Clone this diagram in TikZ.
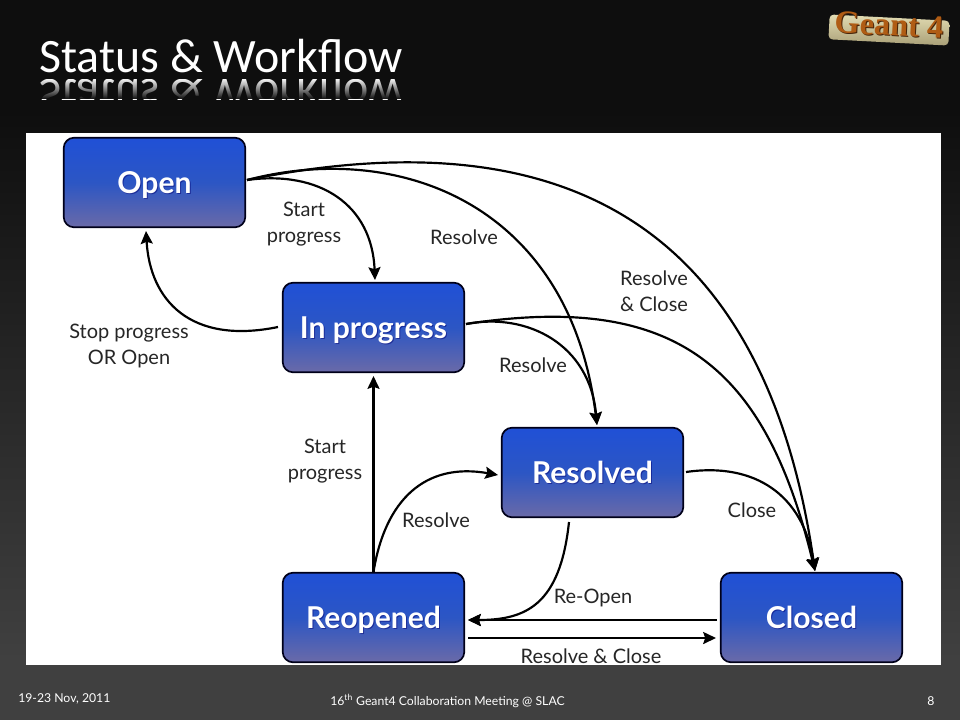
\documentclass[tikz,border=0pt]{standalone}
\usepackage{fontspec}
\setmainfont{Lato}
\newfontfamily\titlefont{Carlito}
\newfontfamily\logofont{Liberation Serif}
\usetikzlibrary{arrows.meta,fadings}
\definecolor{figBg}{RGB}{14,14,14}
\definecolor{figFoot}{RGB}{64,64,64}
\definecolor{figTop}{RGB}{32,80,214}
\definecolor{figMid}{RGB}{44,86,196}
\definecolor{figLow}{RGB}{106,106,168}
\definecolor{figPlaque}{RGB}{226,220,178}
\definecolor{figPlaqueLow}{RGB}{170,160,120}
\definecolor{figLogo}{RGB}{176,92,20}
\definecolor{figLogoDark}{RGB}{70,36,10}
\tikzset{
  statebox/.style={draw=black!90!blue,line width=1.2pt,rounded corners=2.6mm,minimum width=45.4mm,minimum height=22.4mm,top color=figTop,bottom color=figLow,middle color=figMid},
  statetext/.style={text=white,anchor=base,font=\fontsize{21.4}{25}\selectfont\bfseries},
  stateshadow/.style={text=black!55!blue,opacity=0.5,anchor=base,font=\fontsize{21.4}{25}\selectfont\bfseries},
  flow/.style={->,line width=1.55pt,black},
  flowlabel/.style={font=\fontsize{14.2}{18.5}\selectfont,align=center,text=black!85},
  footer/.style={text=white!90,inner sep=0pt,font=\fontsize{8.7}{10}\selectfont}
}
\begin{document}
\begin{tikzpicture}[x=0.25mm,y=-0.25mm,>={Stealth[length=3.2mm,width=3mm,inset=0.5mm]}]
\useasboundingbox (0,0) rectangle (960,720);
% slide background
\fill[figBg] (0,0) rectangle (960,110);
\shade[top color=figBg,bottom color=figFoot] (0,110) rectangle (960,660);
\fill[figFoot] (0,660) rectangle (960,720);
% title and its reflection
\node[text=white!94,font=\fontsize{34.1}{38}\selectfont\titlefont,anchor=base west,inner sep=0pt] (title) at (39,72) {Status \& Workflow};
\begin{scope}
\clip (30,79) rectangle (410,99);
\node[text=white!55,font=\fontsize{34.1}{38}\selectfont\titlefont,anchor=base west,inner sep=0pt,yscale=-1,transform shape] (mirror) at (39,79) {Status \& Workflow};
\fill[figBg,path fading=north] (30,78) rectangle (410,99);
\end{scope}
% logo
\node[rotate=-3,top color=figPlaque,bottom color=figPlaqueLow,rounded corners=1mm,minimum width=30mm,minimum height=6.2mm,inner sep=0pt] (plaque) at (889,30) {};
\node[rotate=-3,text=figLogoDark,font=\fontsize{23}{26}\selectfont\logofont\bfseries,inner sep=0pt] (logoback) at (890,26) {Geant 4};
\node[rotate=-3,text=figLogo,font=\fontsize{23}{26}\selectfont\logofont\bfseries,inner sep=0pt] (logo) at (889,25) {Geant 4};
% white panel
\fill[white] (26,133) rectangle (941,665);
% states
\foreach \nm/\cx/\cy/\txt in {open/154.5/182.5/Open,progress/373.5/327.5/In progress,resolved/592.5/472.5/Resolved,reopened/373.5/617.5/Reopened,closed/811.5/617.5/Closed}{
  \node[statebox] (\nm) at (\cx,\cy) {};
  \node[stateshadow] (\nm s) at (\cx+1,\cy+12) {\txt};
  \node[statetext] (\nm t) at (\cx,\cy+10.5) {\txt};
}
% free ends of the curves
\coordinate (openout) at (247,180);
\coordinate (progout) at (466,324);
\coordinate (progtop) at (375,280);
\coordinate (resin) at (597,425);
\coordinate (closedin) at (815,571);
\coordinate (openin) at (146,231);
\coordinate (progin) at (373.5,376);
\coordinate (reopin) at (468,620);
\coordinate (reopout) at (468,638);
\coordinate (closein) at (716,638);
\coordinate (closeout) at (717,620);
\coordinate (resdown) at (569,522);
\coordinate (resout) at (686,472);
\coordinate (reopup) at (373.5,572);
\coordinate (resleft) at (498,475);
\coordinate (progleft) at (278,327);
% from open
\draw[flow] (openout) .. controls (320,170) and (372,205) .. (progtop);
\draw[flow] (openout) .. controls (400,140) and (570,205) .. (resin);
\draw[flow] (openout) .. controls (600,108) and (770,260) .. (closedin);
% from in progress
\draw[flow] (progout) .. controls (528,312) and (590,345) .. (resin);
\draw[flow] (progout) .. controls (675,292) and (765,365) .. (closedin);
\draw[flow] (progleft) .. controls (190,345) and (150,300) .. (openin);
% from resolved
\draw[flow] (resout) .. controls (755,462) and (803,495) .. (closedin);
\draw[flow] (resdown) .. controls (560,606) and (525,620) .. (reopin);
% from reopened
\draw[flow] (reopup) -- (progin);
\draw[flow] (reopup) .. controls (385,500) and (425,462) .. (resleft);
\draw[flow] (reopout) -- (closein);
% from closed
\draw[flow] (closeout) -- (reopin);
% labels
\node[flowlabel] (l1) at (304,224) {Start\\progress};
\node[flowlabel] (l2) at (464,237) {Resolve};
\node[flowlabel] (l3) at (654,291) {Resolve\\\& Close};
\node[flowlabel] (l4) at (129,346) {Stop progress\\OR Open};
\node[flowlabel] (l5) at (533,365) {Resolve};
\node[flowlabel] (l6) at (325,461) {Start\\progress};
\node[flowlabel] (l7) at (436,520) {Resolve};
\node[flowlabel] (l8) at (752,510) {Close};
\node[flowlabel] (l9) at (593,598) {Re-Open};
\node[flowlabel] (l10) at (591,656) {Resolve \& Close};
% footer
\node[footer,anchor=west] (date) at (18,699) {19-23 Nov, 2011};
\node[footer,anchor=west] (meeting) at (330,701) {16\textsuperscript{th} Geant4 Collaboration Meeting @ SLAC};
\node[footer,anchor=center] (page) at (931,701) {8};
\end{tikzpicture}
\end{document}
